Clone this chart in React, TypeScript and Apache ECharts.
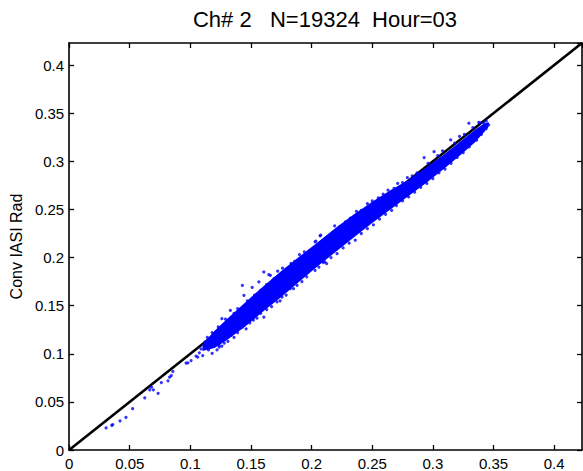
import React, { useEffect, useRef } from "react";
import * as echarts from "echarts";

const titleText = "Ch# 2   N=19324  Hour=03";
const yAxisName = "Conv IASI Rad";
const axisMax = 0.423;
const tickStep = 0.05;

const diagonal = [
  [0, 0],
  [0.423, 0.423],
];

// dense core of the scatter, read as lower/upper edges along x
const bandX = [0.11, 0.12, 0.13, 0.145, 0.16, 0.175, 0.19, 0.205, 0.22, 0.235, 0.25, 0.265, 0.28, 0.295, 0.31, 0.325, 0.335, 0.342, 0.346];
const bandLower = [0.103, 0.106, 0.114, 0.128, 0.144, 0.159, 0.175, 0.191, 0.206, 0.221, 0.236, 0.25, 0.264, 0.278, 0.293, 0.309, 0.32, 0.33, 0.336];
const bandUpper = [0.11, 0.124, 0.136, 0.153, 0.17, 0.186, 0.201, 0.216, 0.231, 0.245, 0.258, 0.27, 0.281, 0.294, 0.308, 0.323, 0.333, 0.339, 0.341];

const edgeUpperPoints = [
  [0.114, 0.117], [0.118, 0.122], [0.123, 0.128], [0.126, 0.1365], [0.129, 0.136], [0.133, 0.145],
  [0.136, 0.142], [0.139, 0.147], [0.1429, 0.171], [0.1442, 0.1607], [0.147, 0.155], [0.151, 0.169],
  [0.153, 0.161], [0.1565, 0.1747], [0.158, 0.166], [0.1606, 0.185], [0.163, 0.172], [0.1647, 0.1823],
  [0.166, 0.1816], [0.169, 0.178], [0.172, 0.186], [0.176, 0.189], [0.179, 0.188], [0.183, 0.194],
  [0.186, 0.196], [0.19, 0.203], [0.194, 0.206], [0.198, 0.207], [0.2029, 0.2164], [0.2035, 0.217],
  [0.207, 0.2226], [0.2075, 0.2233], [0.211, 0.219], [0.215, 0.222], [0.219, 0.233], [0.223, 0.232],
  [0.228, 0.237], [0.232, 0.241], [0.237, 0.248], [0.241, 0.249], [0.246, 0.256], [0.25, 0.259],
  [0.255, 0.262], [0.259, 0.266], [0.263, 0.27], [0.268, 0.272], [0.271, 0.277], [0.275, 0.278],
  [0.279, 0.283], [0.283, 0.285], [0.287, 0.288], [0.2928, 0.3039], [0.296, 0.298], [0.301, 0.31],
  [0.304, 0.306], [0.308, 0.311], [0.3147, 0.3222], [0.318, 0.319], [0.322, 0.326], [0.326, 0.328],
  [0.3297, 0.3396], [0.333, 0.335], [0.3378, 0.3406], [0.342, 0.3396], [0.339, 0.34], [0.344, 0.342],
];

const edgeLowerPoints = [
  [0.1238, 0.1086], [0.128, 0.111], [0.131, 0.113], [0.1333, 0.119], [0.136, 0.117], [0.139, 0.122],
  [0.1429, 0.1278], [0.146, 0.126], [0.149, 0.132], [0.152, 0.135], [0.155, 0.137], [0.1606, 0.1382],
  [0.158, 0.142], [0.163, 0.146], [0.167, 0.149], [0.1715, 0.1539], [0.174, 0.155], [0.1756, 0.159],
  [0.179, 0.161], [0.1824, 0.1677], [0.1851, 0.1677], [0.188, 0.171], [0.192, 0.175], [0.196, 0.18],
  [0.2029, 0.1868], [0.2097, 0.1948], [0.2124, 0.1938], [0.211, 0.1955], [0.206, 0.19], [0.216, 0.2],
  [0.221, 0.204], [0.226, 0.21], [0.231, 0.215], [0.236, 0.218], [0.241, 0.225], [0.246, 0.23],
  [0.251, 0.234], [0.256, 0.24], [0.2642, 0.2545], [0.261, 0.245], [0.266, 0.249], [0.27, 0.254],
  [0.275, 0.259], [0.28, 0.263], [0.285, 0.268], [0.29, 0.273], [0.295, 0.277], [0.3, 0.282],
  [0.305, 0.288], [0.31, 0.292], [0.315, 0.298], [0.32, 0.304], [0.325, 0.309], [0.33, 0.315],
  [0.336, 0.322], [0.34, 0.328], [0.344, 0.334], [0.346, 0.338],
];

const tailPoints = [
  [0.0305, 0.0229], [0.0352, 0.0257], [0.036, 0.0264], [0.042, 0.0302], [0.0469, 0.0339], [0.0524, 0.043],
  [0.0624, 0.0542], [0.0665, 0.0625], [0.0679, 0.0653], [0.0695, 0.0625], [0.0734, 0.0589], [0.0761, 0.0701],
  [0.0816, 0.0719], [0.0829, 0.0757], [0.0843, 0.0774], [0.0856, 0.0816], [0.0965, 0.0903], [0.0979, 0.0906],
  [0.1006, 0.093], [0.1047, 0.0976], [0.1074, 0.101], [0.1088, 0.1052], [0.1143, 0.1086], [0.117, 0.1139],
  [0.121, 0.11], [0.1238, 0.107], [0.1265, 0.1156], [0.1102, 0.0982], [0.1061, 0.0966], [0.112, 0.112],
  [0.115, 0.104], [0.118, 0.1005], [0.122, 0.104], [0.126, 0.108], [0.113, 0.107],
];

const FONT = "'Liberation Sans', Arial, Helvetica, sans-serif";

const fmt = (v: number) => {
  const r = Math.round(v / tickStep) * tickStep;
  if (Math.abs(r - v) > 1e-6) return "";
  return String(parseFloat(r.toFixed(2)));
};

export default function App() {
  const ref = useRef<HTMLDivElement>(null);
  useEffect(() => {
    document.body.style.margin = "0";
    if (!ref.current) return;
    const chart = echarts.init(ref.current, undefined, { renderer: "svg" });
    const axisCommon = {
      type: "value" as const,
      min: 0,
      max: axisMax,
      interval: tickStep,
      splitLine: { show: false },
      axisLine: { show: true, onZero: false, lineStyle: { color: "#000", width: 1.6 } },
      axisTick: { show: true, inside: true, length: 5, lineStyle: { color: "#000", width: 1.3 } },
    };
    const scatterCommon = {
      type: "scatter" as const,
      symbol: "circle",
      symbolSize: 3.2,
      itemStyle: { color: "#0000ff" },
      silent: true,
      z: 4,
    };
    chart.setOption({
      animation: false,
      grid: { left: 67, right: 1, top: 43, bottom: 20 },
      xAxis: [
        {
          ...axisCommon,
          position: "bottom",
          axisLabel: {
            show: true,
            showMaxLabel: false,
            margin: 6,
            color: "#000",
            fontSize: 15,
            fontFamily: FONT,
            formatter: fmt,
          },
        },
        { ...axisCommon, position: "top", axisLabel: { show: false } },
      ],
      yAxis: [
        {
          ...axisCommon,
          position: "left",
          name: yAxisName,
          nameLocation: "middle",
          nameGap: 44,
          nameRotate: 90,
          nameTextStyle: { color: "#000", fontSize: 16, fontFamily: FONT },
          axisLabel: {
            show: true,
            showMaxLabel: false,
            margin: 5,
            color: "#000",
            fontSize: 15,
            fontFamily: FONT,
            formatter: fmt,
          },
        },
        { ...axisCommon, position: "right", axisLabel: { show: false } },
      ],
      graphic: [
        {
          type: "text",
          x: 325,
          y: 19,
          style: {
            text: titleText,
            fill: "#000",
            font: `22px ${FONT}`,
            textAlign: "center",
            textVerticalAlign: "middle",
          },
        },
      ],
      series: [
        {
          type: "line",
          data: diagonal,
          symbol: "none",
          lineStyle: { color: "#000", width: 2.6 },
          silent: true,
          z: 1,
        },
        {
          type: "custom",
          coordinateSystem: "cartesian2d",
          data: [[bandX[0], bandLower[0]]],
          silent: true,
          z: 3,
          renderItem: (_params: any, api: any) => {
            const pts: number[][] = [];
            for (let i = 0; i < bandX.length; i++) pts.push(api.coord([bandX[i], bandUpper[i]]));
            for (let i = bandX.length - 1; i >= 0; i--) pts.push(api.coord([bandX[i], bandLower[i]]));
            return { type: "polygon", shape: { points: pts }, style: { fill: "#0000ff" } };
          },
        },
        { ...scatterCommon, data: edgeUpperPoints },
        { ...scatterCommon, data: edgeLowerPoints },
        { ...scatterCommon, data: tailPoints },
      ],
    });
    return () => chart.dispose();
  }, []);
  return <div ref={ref} style={{ width: 583, height: 471, position: "absolute", left: 0, top: 0 }} />;
}
